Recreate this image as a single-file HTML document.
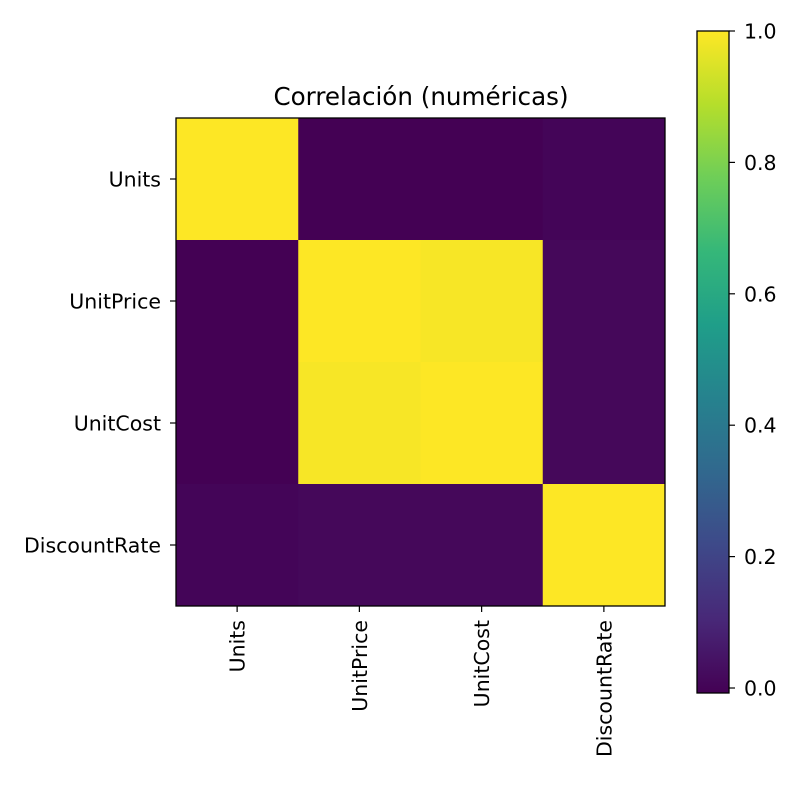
<!DOCTYPE html>
<html><head><meta charset="utf-8">
<style>
html,body{margin:0;padding:0;background:#fff;}
svg{display:block;font-family:"DejaVu Sans","Liberation Sans",sans-serif;}
</style></head>
<body>
<svg id="chart" width="810" height="810" viewBox="0 0 810 810">
<defs>
<linearGradient id="vir" x1="0" y1="1" x2="0" y2="0"></linearGradient>
</defs>
<rect width="810" height="810" fill="#fff"/>
<text x="421" y="105" font-size="24.6" text-anchor="middle" fill="#000">Correlación (numéricas)</text>
<g id="cells"></g>
<rect x="176" y="118" width="489" height="488" fill="none" stroke="#000" stroke-width="1.3"/>
<g id="ticks"></g>
<rect x="697" y="31" width="32" height="662" fill="url(#vir)"/>
<rect x="697" y="31" width="32" height="662" fill="none" stroke="#000" stroke-width="1.3"/>
<g id="cbticks"></g>
</svg>
<script>
const categories = ["Units","UnitPrice","UnitCost","DiscountRate"];
const corrRow0 = [1.0, -0.008, -0.007, 0.005];
const corrRow1 = [-0.008, 1.0, 0.99, 0.012];
const corrRow2 = [-0.007, 0.99, 1.0, 0.012];
const corrRow3 = [0.005, 0.012, 0.012, 1.0];
const cbTicks = [0.0, 0.2, 0.4, 0.6, 0.8, 1.0];
const vmin = -0.0076, vmax = 1.0;

const NS = "http://www.w3.org/2000/svg";
const vir = ["#440154","#482878","#3e4989","#31688e","#26828e","#1f9e89","#35b779","#6ece58","#b5de2b","#fde725"];
function hex(c){return [1,3,5].map(i=>parseInt(c.substr(i,2),16));}
function cmap(v){
  let t=(v-vmin)/(vmax-vmin); t=Math.max(0,Math.min(1,t));
  const p=t*(vir.length-1), i=Math.min(Math.floor(p),vir.length-2), f=p-i;
  const a=hex(vir[i]), b=hex(vir[i+1]);
  return "rgb("+a.map((x,k)=>Math.round(x+(b[k]-x)*f)).join(",")+")";
}
const x0=176, y0=118, W=489, H=488, n=categories.length;
const cw=W/n, ch=H/n;
function xPos(i){return x0+i*cw;}
function yPos(j){return y0+j*ch;}
function cbY(v){return 693-(v-vmin)/(vmax-vmin)*662;}

const grad=document.getElementById("vir");
vir.forEach((c,i)=>{const s=document.createElementNS(NS,"stop");s.setAttribute("offset",(i/(vir.length-1)));s.setAttribute("stop-color",c);grad.appendChild(s);});

const rows=[corrRow0,corrRow1,corrRow2,corrRow3];
const cells=document.getElementById("cells");
rows.forEach((row,j)=>row.forEach((v,i)=>{
  const r=document.createElementNS(NS,"rect");
  r.setAttribute("x",xPos(i));r.setAttribute("y",yPos(j));
  r.setAttribute("width",cw+0.5);r.setAttribute("height",ch+0.5);
  r.setAttribute("fill",cmap(v));
  
  
  cells.appendChild(r);
}));

const tk=document.getElementById("ticks");
categories.forEach((c,i)=>{
  const cy=yPos(i)+ch/2, cx=xPos(i)+cw/2;
  const l=document.createElementNS(NS,"line");
  l.setAttribute("x1",170);l.setAttribute("x2",176);l.setAttribute("y1",cy);l.setAttribute("y2",cy);l.setAttribute("stroke","#000");l.setAttribute("stroke-width","1.2");
  
  
  tk.appendChild(l);
  const t=document.createElementNS(NS,"text");
  t.setAttribute("x",161);t.setAttribute("y",cy+7.5);t.setAttribute("text-anchor","end");t.setAttribute("font-size","20.5");
  t.textContent=c;
  
  
  tk.appendChild(t);
  const l2=document.createElementNS(NS,"line");
  l2.setAttribute("x1",cx);l2.setAttribute("x2",cx);l2.setAttribute("y1",606);l2.setAttribute("y2",612);l2.setAttribute("stroke","#000");l2.setAttribute("stroke-width","1.2");
  
  
  tk.appendChild(l2);
  const t2=document.createElementNS(NS,"text");
  t2.setAttribute("transform","translate("+(cx+7.5)+",620) rotate(-90)");
  t2.setAttribute("text-anchor","end");t2.setAttribute("font-size","20.5");
  t2.textContent=c;
  
  
  tk.appendChild(t2);
});

const cbt=document.getElementById("cbticks");
cbTicks.forEach(v=>{
  const y=cbY(v);
  const l=document.createElementNS(NS,"line");
  l.setAttribute("x1",729);l.setAttribute("x2",735);l.setAttribute("y1",y);l.setAttribute("y2",y);l.setAttribute("stroke","#000");l.setAttribute("stroke-width","1.2");
  
  
  cbt.appendChild(l);
  const t=document.createElementNS(NS,"text");
  t.setAttribute("x",744);t.setAttribute("y",y+7.5);t.setAttribute("font-size","20.5");
  t.textContent=v.toFixed(1);
  
  
  cbt.appendChild(t);
});
</script>
</body></html>
